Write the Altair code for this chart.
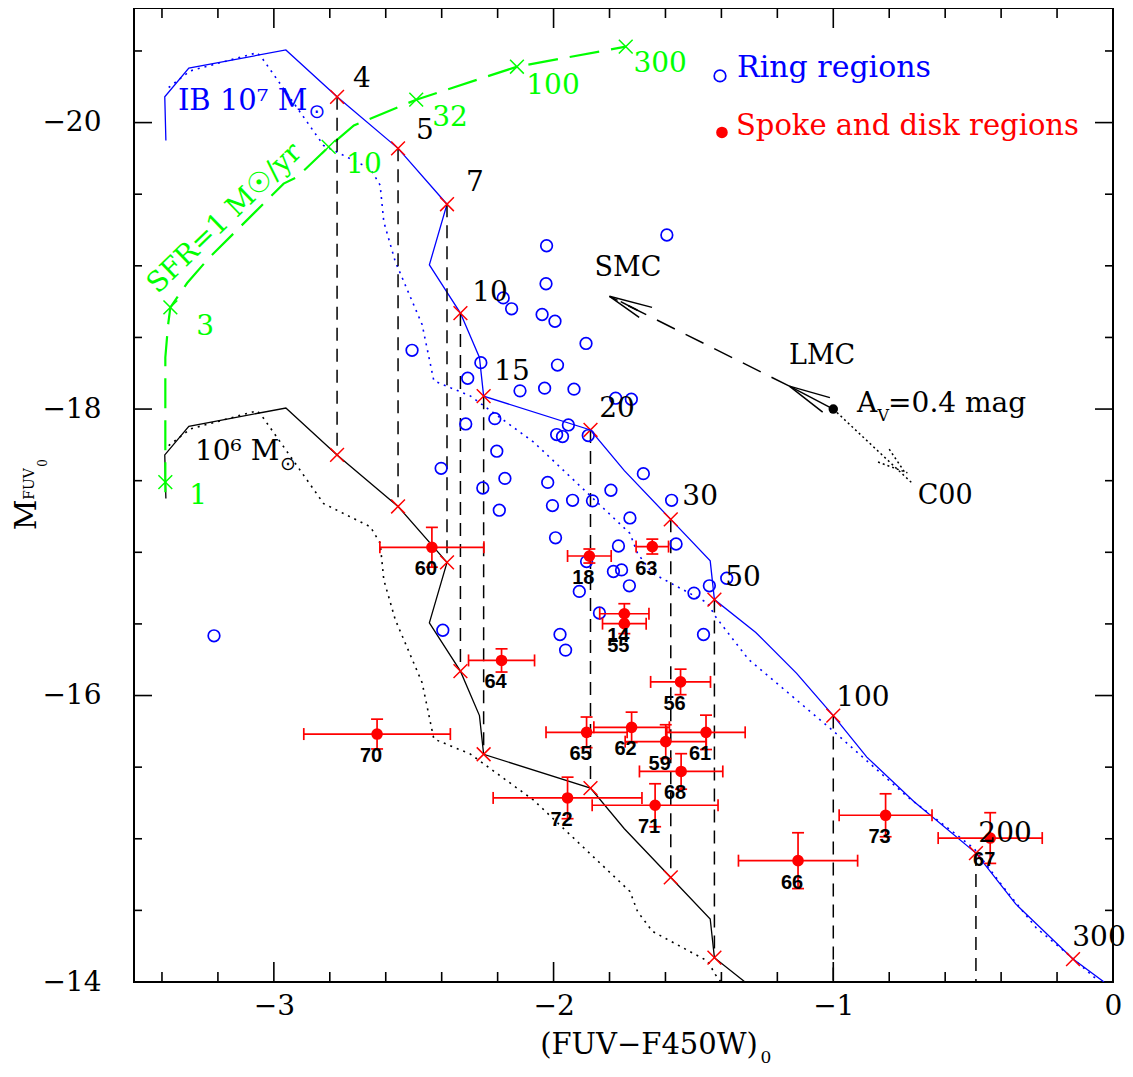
import altair as alt
import pandas as pd

# ---------------- axes ----------------
X_DOMAIN = [-3.5, 0.0]
Y_DOMAIN = [-20.8, -14.0]
X_LABELS = [-3, -2, -1, 0]
Y_LABELS = [-20, -18, -16, -14]
X_MAJOR = [-3, -2, -1]
X_MINOR = [-3.4, -3.2, -2.8, -2.6, -2.4, -2.2, -1.8, -1.6, -1.4, -1.2, -0.8, -0.6, -0.4, -0.2]
Y_MAJOR = [-20, -18, -16]
Y_MINOR = [-20.5, -19.5, -19, -18.5, -17.5, -17, -16.5, -15.5, -15, -14.5]

# ---------------- IB 1e7 Msun track (blue solid) ----------------
TRK7_X = [-3.386, -3.39, -3.304, -2.957, -2.774, -2.556, -2.381, -2.444, -2.333, -2.265, -2.25,
          -1.868, -1.747, -1.581, -1.44, -1.425, -1.277, -1.131, -1.0, -0.88, -0.712, -0.49,
          -0.348, -0.143, -0.032]
TRK7_Y = [-19.875, -20.18, -20.38, -20.507, -20.18, -19.82, -19.43, -19.007, -18.67, -18.36, -18.09,
          -17.854, -17.57, -17.23, -16.94, -16.67, -16.44, -16.155, -15.86, -15.57, -15.26, -14.90,
          -14.545, -14.16, -14.0]
# blue dotted track
TRK7D_X = [-3.376, -3.299, -3.06, -3.042, -2.822, -2.655, -2.62, -2.607, -2.566, -2.47, -2.428,
           -2.298, -2.071, -1.727, -1.7, -1.647, -1.449, -1.422, -1.303, -1.008, -0.739, -0.497,
           -0.389, -0.274, -0.146, -0.052]
TRK7D_Y = [-20.245, -20.361, -20.488, -20.45, -19.84, -19.678, -19.563, -19.308, -19.03, -18.59, -18.197,
           -18.092, -17.769, -17.132, -16.993, -16.854, -16.646, -16.553, -16.252, -15.766, -15.30, -14.933,
           -14.655, -14.377, -14.169, -14.007]
# 1e6 Msun track (black solid)
TRK6_X = [-3.386, -3.39, -3.304, -2.957, -2.774, -2.556, -2.381, -2.444, -2.333, -2.265, -2.25,
          -1.868, -1.747, -1.581, -1.44, -1.425, -1.277]
TRK6_Y = [-17.375, -17.68, -17.88, -18.007, -17.68, -17.32, -16.93, -16.507, -16.17, -15.86, -15.59,
          -15.354, -15.07, -14.73, -14.44, -14.17, -13.94]
# black dotted track
TRK6D_X = [-3.376, -3.299, -3.06, -3.042, -2.822, -2.655, -2.62, -2.607, -2.566, -2.47, -2.428,
           -2.298, -2.071, -1.727, -1.7, -1.647, -1.449, -1.422, -1.303]
TRK6D_Y = [-17.745, -17.861, -17.988, -17.95, -17.34, -17.178, -17.063, -16.808, -16.53, -16.09, -15.697,
           -15.592, -15.269, -14.632, -14.493, -14.354, -14.146, -14.053, -13.752]

# SFR = 1 Msun/yr track (green)
SFR_X = [-3.388, -3.388, -3.378, -3.37, -3.31, -3.233, -2.965, -2.917, -2.804, -2.714, -2.491, -2.131, -1.742]
SFR_Y = [-17.42, -18.36, -18.59, -18.71, -18.88, -19.053, -19.574, -19.62, -19.83, -19.98, -20.16, -20.39, -20.53]
SFR_MARK_X = [-3.388, -3.37, -2.804, -2.491, -2.131, -1.742]
SFR_MARK_Y = [-17.49, -18.71, -19.83, -20.16, -20.39, -20.53]
SFR_AGES = ["1", "3", "10", "32", "100", "300"]
SFR_LAB_X = [-3.271, -3.246, -2.678, -2.37, -2.002, -1.619]
SFR_LAB_Y = [-17.396, -18.576, -19.701, -20.035, -20.257, -20.41]

# age markers (Myr)
AGES = ["4", "5", "7", "10", "15", "20", "30", "50", "100", "200", "300"]
AGE7_X = [-2.774, -2.556, -2.381, -2.333, -2.25, -1.868, -1.581, -1.425, -1.0, -0.49, -0.143]
AGE7_Y = [-20.18, -19.82, -19.43, -18.67, -18.09, -17.854, -17.23, -16.67, -15.86, -14.90, -14.16]
AGE6_X = [-2.774, -2.556, -2.381, -2.333, -2.25, -1.868, -1.581, -1.425]
AGE6_Y = [-17.68, -17.32, -16.93, -16.17, -15.59, -15.354, -14.73, -14.17]
AGE_LAB_X = [-2.685, -2.46, -2.281, -2.227, -2.149, -1.773, -1.476, -1.323, -0.894, -0.386, -0.05]
AGE_LAB_Y = [-20.306, -19.944, -19.576, -18.81, -18.257, -18.0, -17.389, -16.819, -15.986, -15.035, -14.306]
# vertical dashed connectors
CONN_X = [-2.774, -2.556, -2.381, -2.333, -2.25, -1.868, -1.581, -1.425, -1.0, -0.49]
CONN_TOP = [-20.18, -19.82, -19.43, -18.67, -18.09, -17.854, -17.23, -16.67, -15.86, -14.90]
CONN_BOT = [-17.68, -17.32, -16.93, -16.17, -15.59, -15.354, -14.73, -14.17, -14.0, -14.0]

# ring regions (blue open circles)
RING_X = [-1.595, -2.025, -2.027, -2.18, -2.15, -2.041, -1.995, -1.884, -2.26, -2.307, -1.986, -2.12,
          -2.032, -1.927, -1.778, -1.722, -2.21, -2.314, -1.947, -1.989, -1.968, -1.876, -2.203, -2.402,
          -2.174, -2.253, -2.194, -2.021, -1.679, -1.795, -1.932, -1.861, -2.004, -1.578, -1.727, -1.993,
          -1.768, -1.562, -1.882, -1.786, -1.757, -1.729, -1.908, -1.381, -1.443, -1.498, -1.836, -1.464,
          -2.396, -1.977, -1.957, -2.506, -3.214]
RING_Y = [-19.215, -19.14, -18.875, -18.776, -18.70, -18.66, -18.613, -18.458, -18.324, -18.215, -18.307, -18.127,
          -18.146, -18.139, -18.076, -18.069, -17.933, -17.896, -17.889, -17.822, -17.808, -17.815, -17.706, -17.586,
          -17.516, -17.449, -17.294, -17.488, -17.549, -17.433, -17.363, -17.359, -17.326, -17.363, -17.24, -17.101,
          -17.044, -17.058, -16.935, -16.866, -16.877, -16.766, -16.727, -16.819, -16.766, -16.715, -16.576, -16.426,
          -16.456, -16.426, -16.317, -18.41, -16.417]

# spoke and disk regions (red, with errors)
SD_ID = ["60", "18", "63", "14", "55", "64", "56", "65", "62", "59", "61", "68", "72", "71", "70", "73", "66", "67"]
SD_X = [-2.435, -1.872, -1.647, -1.747, -1.747, -2.186, -1.546, -1.882, -1.721, -1.599, -1.455, -1.544,
        -1.95, -1.637, -2.631, -0.813, -1.126, -0.439]
SD_Y = [-17.035, -16.974, -17.04, -16.571, -16.502, -16.245, -16.095, -15.743, -15.778, -15.678, -15.743, -15.47,
        -15.285, -15.234, -15.731, -15.164, -14.847, -15.005]
SD_XERR = [0.186, 0.078, 0.058, 0.088, 0.078, 0.118, 0.107, 0.145, 0.135, 0.145, 0.14, 0.149,
           0.266, 0.225, 0.262, 0.166, 0.213, 0.186]
SD_YERR = [0.139, 0.049, 0.052, 0.07, 0.07, 0.081, 0.089, 0.107, 0.106, 0.118, 0.12, 0.124,
           0.145, 0.15, 0.104, 0.15, 0.195, 0.177]

# extinction vectors
AV_DOT = [(-1.0, -18.0)]
LMC_SEG = [(-1.0, -18.0, -1.157, -18.16), (-1.157, -18.16, -1.012, -18.08), (-1.157, -18.16, -1.038, -17.979)]
SMC_DASH = [(-1.157, -18.16, -1.8, -18.787)]
SMC_HEAD = [(-1.8, -18.787, -1.648, -18.71), (-1.8, -18.787, -1.694, -18.64), (-1.76, -18.75, -1.70, -18.69)]
C00_DOT = [(-1.0, -18.0, -0.716, -17.479), (-0.84, -17.63, -0.735, -17.555), (-0.80, -17.72, -0.745, -17.56)]

SERIF = "DejaVu Serif"
W, H = 979, 974
BLUE, RED, GREEN = "#0000ff", "#ff0000", "#00ff00"

XS = alt.Scale(domain=X_DOMAIN, nice=False, zero=False)
YS = alt.Scale(domain=Y_DOMAIN, nice=False, zero=False, reverse=True)
XAX = alt.Axis(values=X_LABELS, title=None, domain=False, ticks=False, grid=False, labelFont=SERIF,
               labelFontSize=28, labelPadding=10, labelColor="black", labelFlush=False,
               labelOverlap=False, format="d")
YAX = alt.Axis(values=Y_LABELS, title=None, domain=False, ticks=False, grid=False, labelFont=SERIF,
               labelFontSize=28, labelPadding=33, labelColor="black", labelFlush=False,
               labelOverlap=False, format="d")


def X(f):
    return alt.X(f, type="quantitative", scale=XS, axis=XAX)


def Y(f):
    return alt.Y(f, type="quantitative", scale=YS, axis=YAX)


def path(xs_, ys_, color, width=1.3, dash=None):
    df = pd.DataFrame({"x": xs_, "y": ys_, "o": list(range(len(xs_)))})
    kw = dict(color=color, strokeWidth=width, clip=True)
    if dash is not None:
        kw["strokeDash"] = dash
    return alt.Chart(df).mark_line(**kw).encode(x=X("x"), y=Y("y"), order="o:Q")


def segs(rows, color, width=1.5, dash=None):
    df = pd.DataFrame(rows, columns=["x", "y", "x2", "y2"])
    kw = dict(color=color, strokeWidth=width, clip=True)
    if dash is not None:
        kw["strokeDash"] = dash
    return alt.Chart(df).mark_rule(**kw).encode(x=X("x"), y=Y("y"), x2="x2:Q", y2="y2:Q")


def texts(xs_, ys_, labels, **mk):
    df = pd.DataFrame({"x": xs_, "y": ys_, "t": labels})
    return alt.Chart(df).mark_text(**mk).encode(x=X("x"), y=Y("y"), text="t:N")


def ptext(px, py, label, **mk):
    df = pd.DataFrame({"t": [label]})
    return alt.Chart(df).mark_text(**mk).encode(x=alt.value(px), y=alt.value(py), text="t:N")


def tick_rules(vals, axis, side, length):
    df = pd.DataFrame({"v": vals})
    ch = alt.Chart(df).mark_rule(color="black", strokeWidth=1.6)
    if axis == "x":
        if side == "bottom":
            return ch.encode(x=X("v"), y=alt.value(H), y2=alt.value(H - length))
        return ch.encode(x=X("v"), y=alt.value(0), y2=alt.value(length))
    if side == "left":
        return ch.encode(y=Y("v"), x=alt.value(0), x2=alt.value(length))
    return ch.encode(y=Y("v"), x=alt.value(W), x2=alt.value(W - length))


XSHAPE = "M-1,-1L1,1M-1,1L1,-1"


def xmarks(xs_, ys_, color, size=190):
    df = pd.DataFrame({"x": xs_, "y": ys_})
    return alt.Chart(df).mark_point(shape=XSHAPE, filled=False, color=color, strokeWidth=1.5,
                                    size=size, opacity=1).encode(x=X("x"), y=Y("y"))


layers = []
# inner ticks
layers += [tick_rules(X_MAJOR, "x", "bottom", 20), tick_rules(X_MINOR, "x", "bottom", 10),
           tick_rules(X_MAJOR, "x", "top", 20), tick_rules(X_MINOR, "x", "top", 10),
           tick_rules(Y_MAJOR, "y", "left", 18), tick_rules(Y_MINOR, "y", "left", 8),
           tick_rules(Y_MAJOR, "y", "right", 18), tick_rules(Y_MINOR, "y", "right", 8)]

# tracks
layers += [path(TRK7D_X, TRK7D_Y, BLUE, 1.6, [2, 5]),
           path(TRK6D_X, TRK6D_Y, "black", 1.6, [2, 5]),
           path(TRK7_X, TRK7_Y, BLUE, 1.3),
           path(TRK6_X, TRK6_Y, "black", 1.3),
           path(SFR_X, SFR_Y, GREEN, 2.2, [30, 12])]

conn = pd.DataFrame({"x": CONN_X, "y": CONN_TOP, "y2": CONN_BOT})
layers.append(alt.Chart(conn).mark_rule(color="black", strokeWidth=1.5, strokeDash=[13, 8]).encode(
    x=X("x"), y=Y("y"), y2="y2:Q"))

# extinction vectors
layers += [segs(LMC_SEG, "black", 1.5), segs(SMC_DASH, "black", 1.5, [20, 12]),
           segs(SMC_HEAD, "black", 1.5), segs(C00_DOT, "black", 1.5, [2, 3])]
layers.append(alt.Chart(pd.DataFrame(AV_DOT, columns=["x", "y"])).mark_circle(
    color="black", size=90, opacity=1).encode(x=X("x"), y=Y("y")))

# markers
layers += [xmarks(AGE7_X, AGE7_Y, RED), xmarks(AGE6_X, AGE6_Y, RED), xmarks(SFR_MARK_X, SFR_MARK_Y, GREEN)]

# ring regions
ring = pd.DataFrame({"x": RING_X, "y": RING_Y})
layers.append(alt.Chart(ring).mark_point(shape="circle", filled=False, color=BLUE, strokeWidth=1.7,
                                         size=135, opacity=1).encode(x=X("x"), y=Y("y")))

# spoke and disk regions
sd = pd.DataFrame({"id": SD_ID, "x": SD_X, "y": SD_Y, "xe": SD_XERR, "ye": SD_YERR})
sd["xlo"] = sd.x - sd.xe
sd["xhi"] = sd.x + sd.xe
sd["ylo"] = sd.y - sd.ye
sd["yhi"] = sd.y + sd.ye
base = alt.Chart(sd)
layers += [
    base.mark_rule(color=RED, strokeWidth=1.7).encode(x=X("xlo"), x2="xhi:Q", y=Y("y")),
    base.mark_rule(color=RED, strokeWidth=1.7).encode(x=X("x"), y=Y("ylo"), y2="yhi:Q"),
    base.mark_tick(color=RED, orient="vertical", size=12, thickness=1.7, opacity=1).encode(x=X("xlo"), y=Y("y")),
    base.mark_tick(color=RED, orient="vertical", size=12, thickness=1.7, opacity=1).encode(x=X("xhi"), y=Y("y")),
    base.mark_tick(color=RED, orient="horizontal", size=12, thickness=1.7, opacity=1).encode(x=X("x"), y=Y("ylo")),
    base.mark_tick(color=RED, orient="horizontal", size=12, thickness=1.7, opacity=1).encode(x=X("x"), y=Y("yhi")),
    base.mark_circle(color=RED, size=135, opacity=1).encode(x=X("x"), y=Y("y")),
    base.mark_text(font="Liberation Sans", fontSize=20, fontWeight="bold", color="black", dx=-6, dy=22).encode(
        x=X("x"), y=Y("y"), text="id:N"),
]

# age labels
layers.append(texts(AGE_LAB_X, AGE_LAB_Y, AGES, font=SERIF, fontSize=28, color="black",
                    align="center", baseline="middle"))
layers.append(texts(SFR_LAB_X, SFR_LAB_Y, SFR_AGES, font=SERIF, fontSize=28, color=GREEN,
                    align="center", baseline="middle"))

# annotations
layers += [
    texts([-3.343], [-20.153], ["IB  10⁷ M"], font=SERIF, fontSize=29, color=BLUE, align="left", baseline="middle"),
    texts([-2.846], [-20.072], ["⊙"], font="DejaVu Sans", fontSize=20, color=BLUE, align="center", baseline="middle"),
    texts([-3.282], [-17.701], ["10⁶ M"], font=SERIF, fontSize=28, color="black", align="left", baseline="middle"),
    texts([-2.95], [-17.618], ["⊙"], font="DejaVu Sans", fontSize=19, color="black", align="center", baseline="middle"),
    texts([-3.175], [-19.33], ["SFR=1 M☉/yr"], font=SERIF, fontSize=28, color=GREEN, align="center",
          baseline="middle", angle=316),
    texts([-1.734], [-18.986], ["SMC"], font=SERIF, fontSize=27, color="black", align="center", baseline="middle"),
    texts([-1.04], [-18.368], ["LMC"], font=SERIF, fontSize=27, color="black", align="center", baseline="middle"),
    texts([-0.6], [-17.396], ["C00"], font=SERIF, fontSize=27, color="black", align="center", baseline="middle"),
    texts([-0.915], [-18.035], ["A"], font=SERIF, fontSize=28, color="black", align="left", baseline="middle"),
    texts([-0.842], [-17.95], ["V"], font=SERIF, fontSize=16, color="black", align="left", baseline="middle"),
    texts([-0.804], [-18.035], ["=0.4  mag"], font=SERIF, fontSize=28, color="black", align="left", baseline="middle"),
]

# legend
layers += [
    alt.Chart(pd.DataFrame({"x": [-1.405], "y": [-20.326]})).mark_point(
        shape="circle", filled=False, color=BLUE, strokeWidth=1.7, size=135, opacity=1).encode(x=X("x"), y=Y("y")),
    alt.Chart(pd.DataFrame({"x": [-1.398], "y": [-19.931]})).mark_circle(
        color=RED, size=135, opacity=1).encode(x=X("x"), y=Y("y")),
    texts([-1.344], [-20.382], ["Ring regions"], font=SERIF, fontSize=30, color=BLUE, align="left", baseline="middle"),
    texts([-1.348], [-19.979], ["Spoke and disk regions"], font=SERIF, fontSize=29, color=RED,
          align="left", baseline="middle"),
]

# axis titles
layers += [
    ptext(515, 1037, "(FUV−F450W)", font=SERIF, fontSize=29, color="black", align="center", baseline="middle"),
    ptext(632, 1050, "0", font=SERIF, fontSize=17, color="black", align="center", baseline="middle"),
    ptext(-107, 507, "M", font=SERIF, fontSize=30, color="black", align="center", baseline="middle", angle=270),
    ptext(-104, 476, "FUV", font=SERIF, fontSize=14, color="black", align="center", baseline="middle", angle=270),
    ptext(-91, 455, "0", font=SERIF, fontSize=12, color="black", align="center", baseline="middle", angle=270),
]

chart = alt.layer(*layers).properties(
    width=W, height=H,
    padding={"left": 126, "top": 0, "right": 12, "bottom": 86},
    autosize=alt.AutoSizeParams(type="none"),
).configure_view(stroke="black", strokeWidth=2)

chart.save("out.html", embed_options={"renderer": "svg", "actions": False})
